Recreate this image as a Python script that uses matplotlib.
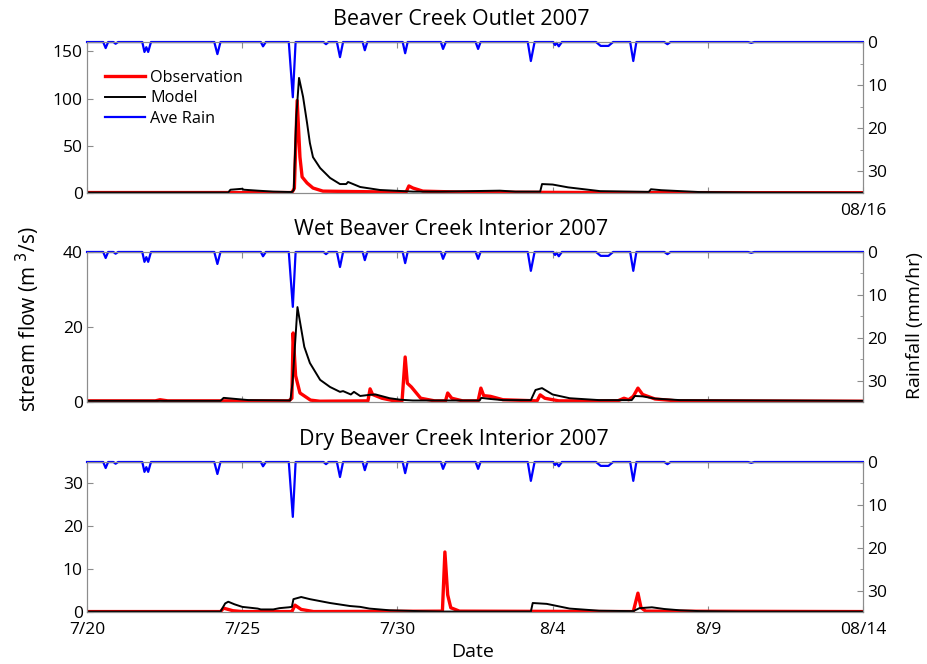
import matplotlib
matplotlib.use("Agg")
import matplotlib.pyplot as plt
from matplotlib.lines import Line2D

plt.rcParams['font.family'] = ['Open Sans', 'DejaVu Sans']

# x values are days after 7/20 2007 00:00
rain_t = [0.0, 0.52, 0.6, 0.68, 0.85, 0.92, 1.0, 1.78, 1.85, 1.91, 1.97, 2.06,
          4.1, 4.2, 4.3, 5.6, 5.67, 5.76, 6.5, 6.63, 6.72, 7.62, 7.7, 7.78,
          8.05, 8.15, 8.25, 8.88, 8.95, 9.03, 10.17, 10.25, 10.33, 11.4, 11.47, 11.56,
          12.52, 12.6, 12.68, 14.2, 14.3, 14.42, 15.02, 15.08, 15.13, 15.2, 15.3,
          16.4, 16.55, 16.8, 16.95, 17.5, 17.6, 17.7, 18.6, 18.7, 18.8,
          21.3, 21.4, 21.5, 25.0]
rain_v = [0, 0, 1.4, 0, 0, 0.4, 0, 0, 2.3, 1.2, 2.3, 0,
          0, 2.8, 0, 0, 1.0, 0, 0, 12.8, 0, 0, 0.5, 0,
          0, 3.5, 0, 0, 1.9, 0, 0, 2.6, 0, 0, 1.6, 0,
          0, 1.6, 0, 0, 4.4, 0, 0, 0.7, 0.2, 1.0, 0,
          0, 0.9, 0.9, 0, 0, 4.4, 0, 0, 0.5, 0,
          0, 0.2, 0, 0]

# Beaver Creek Outlet
outlet_obs_t = [0, 6.6, 6.68, 6.77, 6.86, 6.93, 7.09, 7.28, 7.6, 9.44, 10.28, 10.37,
                10.5, 10.82, 12.02, 16.53, 25]
outlet_obs_v = [0.5, 0.5, 5, 98, 38, 17, 10.6, 5.3, 2, 1.2, 1.0, 7.5,
                5.3, 2, 1, 0.5, 0.3]
outlet_mod_t = [0, 4.55, 4.62, 5.0, 5.05, 5.5, 6.0, 6.6, 6.66, 6.74, 6.83, 6.96,
                7.09, 7.18, 7.28, 7.51, 7.83, 8.15, 8.35, 8.41, 8.8, 9.44, 10.5,
                11.4, 13.3, 13.8, 14.6, 14.66, 15.0, 15.5, 16.53, 18.1, 18.17, 18.5,
                19.75, 21.5, 25]
outlet_mod_v = [0.5, 0.6, 3.5, 4.5, 3.5, 2.5, 1.5, 1.0, 3, 80, 122, 102,
                74, 53, 38, 26.5, 16, 9.5, 9.5, 11.7, 6.4, 3.2, 1.5,
                1.5, 2.5, 1.5, 1.5, 9.5, 9, 6, 2, 1.2, 4, 3,
                1, 0.5, 0.3]

# Wet Beaver Creek Interior
wet_obs_t = [0, 2.2, 2.35, 2.6, 6.5, 6.6, 6.64, 6.72, 6.86, 7.2, 7.5, 9.05, 9.12,
             9.2, 9.5, 9.9, 10.15, 10.25, 10.32, 10.45, 10.75, 11.2, 11.55, 11.62,
             11.75, 12.1, 12.6, 12.69, 12.78, 13.0, 13.4, 14.5, 14.6, 14.75, 15.2,
             17.1, 17.3, 17.45, 17.6, 17.75, 17.9, 18.3, 19.0, 25]
wet_obs_v = [0.3, 0.3, 0.6, 0.3, 0.3, 1, 18.4, 7, 2.4, 0.5, 0.2, 0.3, 3.5,
             2, 1, 0.3, 0.3, 12, 5, 4, 1, 0.3, 0.3, 2.4,
             1, 0.3, 0.3, 3.7, 1.7, 1.5, 0.6, 0.3, 1.9, 1, 0.3,
             0.3, 1.0, 0.6, 1.5, 3.7, 2, 0.8, 0.3, 0.2]
wet_mod_t = [0, 4.3, 4.4, 4.8, 5.2, 6.55, 6.62, 6.78, 7.0, 7.18, 7.51, 7.83, 8.15,
             8.25, 8.5, 8.6, 8.8, 9.1, 9.3, 9.75, 10.1, 10.5, 12.65, 12.7, 13.0,
             13.4, 14.3, 14.45, 14.66, 15.0, 15.55, 16.5, 17.55, 17.65, 17.9, 18.3,
             19.1, 25]
wet_mod_v = [0.3, 0.3, 1.1, 0.8, 0.5, 0.4, 5, 25.3, 14.7, 10.4, 5.9, 4, 2.7,
             2.9, 2.0, 2.7, 1.6, 1.9, 2.0, 1, 0.6, 0.4, 0.4, 1.1, 0.8,
             0.5, 0.5, 3.2, 3.7, 2, 1, 0.5, 0.5, 1.6, 1.5, 0.9,
             0.5, 0.3]

# Dry Beaver Creek Interior
dry_obs_t = [0, 4.3, 4.4, 4.7, 5.0, 6.6, 6.7, 6.9, 7.3, 11.45, 11.53, 11.62, 11.72,
             12.0, 17.6, 17.75, 17.85, 18.0, 25]
dry_obs_v = [0.1, 0.1, 0.9, 0.3, 0.1, 0.1, 1.6, 0.6, 0.1, 0.2, 14, 4, 1,
             0.2, 0.1, 4.4, 1, 0.2, 0.1]
dry_mod_t = [0, 4.3, 4.45, 4.55, 4.75, 5.0, 5.5, 5.6, 6.0, 6.2, 6.5, 6.6, 6.65,
             6.9, 7.18, 7.83, 8.47, 8.8, 9.1, 9.75, 10.7, 11.4, 14.3, 14.36, 14.81,
             15.55, 16.5, 17.6, 17.8, 18.2, 18.6, 19.1, 19.75, 21, 25]
dry_mod_v = [0.1, 0.1, 2.0, 2.4, 1.8, 1.2, 0.8, 0.6, 0.6, 0.9, 1.1, 1.2, 3.0,
             3.5, 3.0, 2.1, 1.4, 1.2, 0.8, 0.4, 0.2, 0.1, 0.1, 2.1, 1.9,
             0.8, 0.3, 0.2, 0.9, 1.1, 0.7, 0.4, 0.2, 0.1, 0.1]

titles = ['Beaver Creek Outlet 2007', 'Wet Beaver Creek Interior 2007',
          'Dry Beaver Creek Interior 2007']
title_x = [0.483, 0.469, 0.473]
flow_max = [160, 40, 35]
flow_ticks = [[0, 50, 100, 150], [0, 20, 40], [0, 10, 20, 30]]
x_ticks = [0, 5, 10, 15, 20, 25]
x_labels = ['7/20', '7/25', '7/30', '8/4', '8/9', '08/14']
rain_ticks = [0, 10, 20, 30]

series = [(outlet_obs_t, outlet_obs_v, outlet_mod_t, outlet_mod_v),
          (wet_obs_t, wet_obs_v, wet_mod_t, wet_mod_v),
          (dry_obs_t, dry_obs_v, dry_mod_t, dry_mod_v)]

grey = '#8c8c8c'
fig = plt.figure(figsize=(9.27, 6.64), dpi=100)
boxes = [(0.0939, 0.7093, 0.837, 0.2274),
         (0.0939, 0.3946, 0.837, 0.2259),
         (0.0939, 0.0783, 0.837, 0.2259)]

for i, box in enumerate(boxes):
    ax = fig.add_axes(box)
    obs_t, obs_v, mod_t, mod_v = series[i]
    ax.plot(obs_t, obs_v, color='red', lw=2.4)
    ax.plot(mod_t, mod_v, color='black', lw=1.4)
    ax.set_xlim(0, 25)
    ax.set_ylim(0, flow_max[i])
    ax.set_yticks(flow_ticks[i])
    ax.set_xticks(x_ticks)
    if i == 2:
        ax.set_xticklabels(x_labels)
    elif i == 0:
        ax.set_xticklabels(['', '', '', '', '', '08/16'])
    else:
        ax.set_xticklabels([])
    ax.tick_params(direction='in', length=4, color=grey, labelsize=12.5,
                   top=True, pad=3)
    ax.tick_params(axis='x', pad=7)
    for s in ax.spines.values():
        s.set_color(grey)
    ax.set_title(titles[i], fontsize=15.5, pad=12, x=title_x[i])

    ax2 = ax.twinx()
    ax2.plot(rain_t, rain_v, color='blue', lw=1.6, clip_on=False)
    ax2.set_ylim(35, 0)
    ax2.set_yticks(rain_ticks)
    ax2.set_yticks([5, 15, 25], minor=True)
    ax2.tick_params(direction='in', length=4, color=grey, labelsize=12.5, pad=3)
    ax2.tick_params(which='minor', direction='in', length=2.5, color=grey)
    for s in ax2.spines.values():
        s.set_color(grey)

    if i == 0:
        handles = [Line2D([], [], color='red', lw=2.4),
                   Line2D([], [], color='black', lw=1.4),
                   Line2D([], [], color='blue', lw=1.6)]
        ax2.legend(handles, ['Observation', 'Model', 'Ave Rain'], loc='upper left',
                   bbox_to_anchor=(0.008, 0.89), frameon=False, fontsize=11.7,
                   handlelength=2.5, handletextpad=0.3, labelspacing=0.27,
                   borderaxespad=0.3)

fig.text(0.030, 0.52, 'stream flow (m$^{\\ 3}$/s)', rotation=90, ha='center',
         va='center', fontsize=15)
fig.text(0.987, 0.51, 'Rainfall (mm/hr)', rotation=90, ha='center',
         va='center', fontsize=14)
fig.text(0.51, 0.018, 'Date', ha='center', va='center', fontsize=14)

fig.savefig('out.png', dpi=100)
